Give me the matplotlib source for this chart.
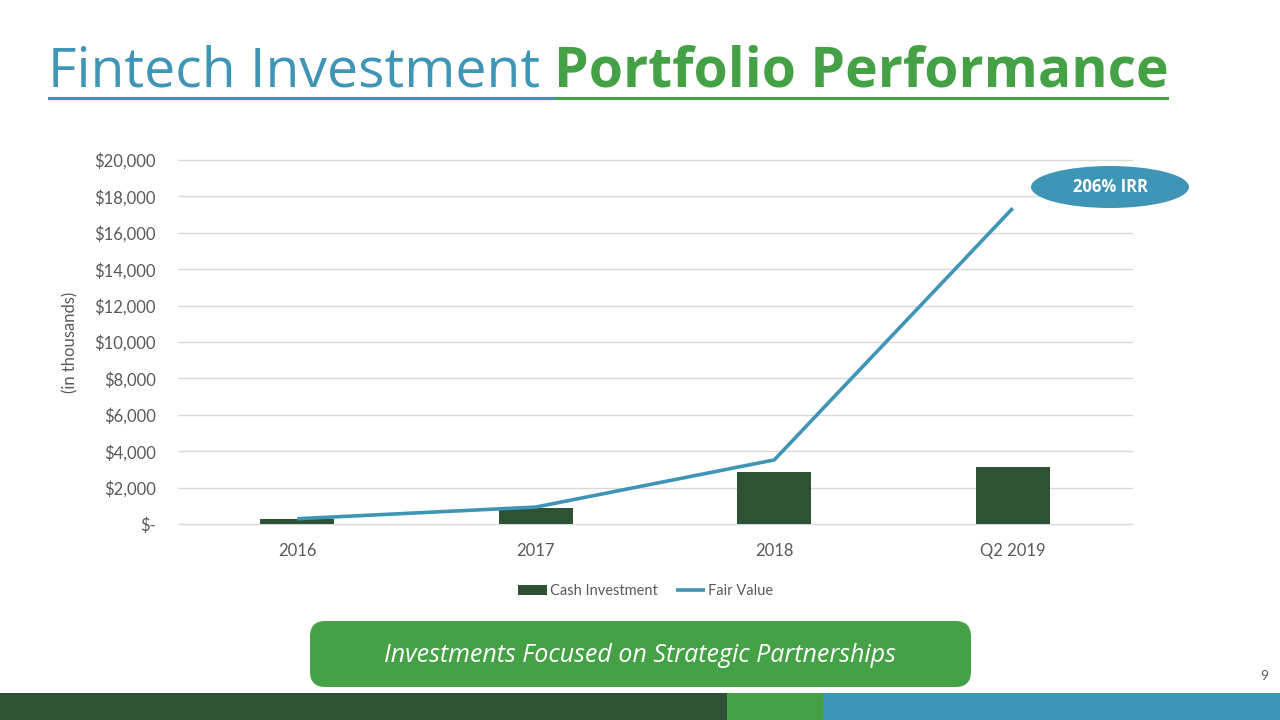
import matplotlib
matplotlib.use("Agg")
import matplotlib.pyplot as plt
from matplotlib.patches import Ellipse, FancyBboxPatch, Rectangle
from matplotlib.ticker import FuncFormatter, MultipleLocator

categories = ["2016", "2017", "2018", "Q2 2019"]
cash_investment = [280, 900, 2860, 3130]
fair_value = [290, 930, 3520, 17350]

BLUE = "#3f95b5"
GREEN = "#45a145"
DARK = "#2d5234"
GREY = "#595959"

fig = plt.figure(figsize=(12.8, 7.2), dpi=100)
W, H = 1280, 720

def fx(x):
    return x / W

def fy(y):
    return 1 - y / H

ax = fig.add_axes([fx(178), fy(524), fx(1132) - fx(178), fy(160) - fy(524)])
x = list(range(len(categories)))
bars = ax.bar(x, cash_investment, width=0.31, color=DARK, label="Cash Investment", zorder=3)
line, = ax.plot(x, fair_value, color=BLUE, lw=2.6, label="Fair Value", zorder=4, solid_capstyle="butt")
ax.set_xlim(-0.5, 3.5)
ax.set_ylim(0, 20000)
ax.yaxis.set_major_locator(MultipleLocator(2000))
ax.yaxis.set_major_formatter(FuncFormatter(lambda v, p: "$-" if v == 0 else f"${v:,.0f}"))
ax.set_xticks(x)
ax.set_xticklabels(categories)
ax.grid(axis="y", color="#d9d9d9", lw=1, zorder=0)
for gl in ax.get_ygridlines():
    gl.set_clip_on(False)
for s in ax.spines.values():
    s.set_visible(False)
ax.tick_params(length=0, colors=GREY, labelsize=12)
ax.tick_params(axis="y", pad=16)
ax.tick_params(axis="x", pad=14)
for t in ax.get_xticklabels() + ax.get_yticklabels():
    t.set_fontfamily("Lato")
ax.set_ylabel("(in thousands)", fontsize=12, color=GREY, family="Lato")
ax.yaxis.set_label_coords((78 - 178) / (1132 - 178), 0.5)
leg = ax.legend([bars, line], ["Cash Investment", "Fair Value"], loc="center",
                bbox_to_anchor=(0.49, (fy(591) - fy(524)) / (fy(160) - fy(524))),
                ncol=2, frameon=False, handlelength=2.0, handletextpad=0.2,
                columnspacing=1.2, prop={"family": "Lato", "size": 10.5})
for t in leg.get_texts():
    t.set_color(GREY)

# Title
TY = 72
t1 = fig.text(fx(48), fy(TY), "Fintech Investment ", fontsize=39.8, color=BLUE,
              family="Open Sans", va="center", ha="left")
fig.canvas.draw()
bb = t1.get_window_extent()
x2 = bb.x1
t2 = fig.text(x2 / W, fy(TY), "Portfolio Performance", fontsize=39.8, color=GREEN,
              family="Open Sans", weight="bold", va="center", ha="left")
fig.canvas.draw()
bb2 = t2.get_window_extent()
fig.add_artist(Rectangle((fx(48), fy(100)), x2 / W - fx(48), 3 / H, transform=fig.transFigure,
                         color=BLUE, lw=0))
fig.add_artist(Rectangle((x2 / W, fy(100)), bb2.x1 / W - x2 / W, 3 / H, transform=fig.transFigure,
                         color=GREEN, lw=0))

# IRR ellipse
fig.add_artist(Ellipse((fx(1110), fy(187)), 158 / W, 42 / H, transform=fig.transFigure,
                       color=BLUE, lw=0))
fig.text(fx(1110), fy(187), "206% IRR", color="white", fontsize=12, weight="bold",
         family="Open Sans", ha="center", va="center")

# Green callout box
fig.add_artist(FancyBboxPatch((fx(310), fy(687)), (971 - 310) / W, 66 / H,
                              boxstyle="round,pad=0,rounding_size=0.012",
                              transform=fig.transFigure, color=GREEN, lw=0,
                              mutation_aspect=W / H))
fig.text(fx(640), fy(655), "Investments Focused on Strategic Partnerships", color="white",
         fontsize=18, style="italic", family="Open Sans", ha="center", va="center")

# Bottom bands
fig.add_artist(Rectangle((0, 0), fx(727), 27 / H, transform=fig.transFigure, color=DARK, lw=0))
fig.add_artist(Rectangle((fx(727), 0), fx(823) - fx(727), 27 / H, transform=fig.transFigure, color=GREEN, lw=0))
fig.add_artist(Rectangle((fx(823), 0), 1 - fx(823), 27 / H, transform=fig.transFigure, color=BLUE, lw=0))

fig.text(fx(1264), fy(676), "9", color=GREY, fontsize=10, family="Lato", ha="center", va="center")

fig.savefig("out.png", dpi=100)
